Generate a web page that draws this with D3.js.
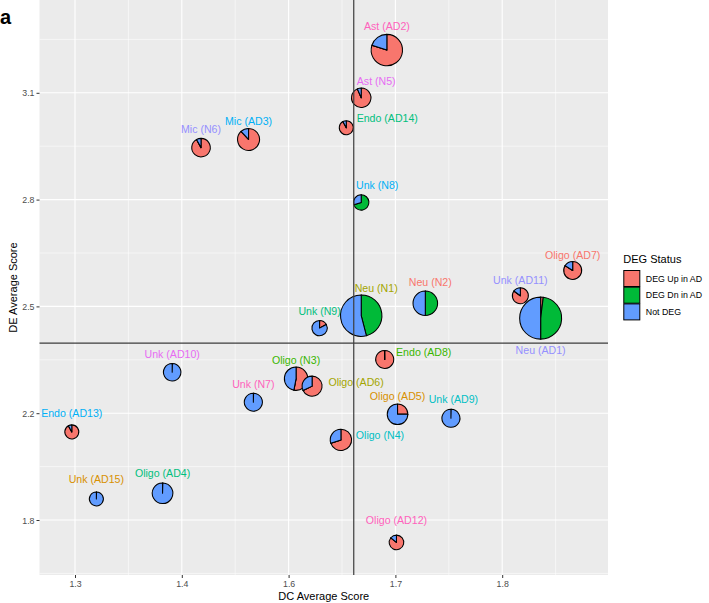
<!DOCTYPE html>
<html><head><meta charset="utf-8">
<script src="https://cdn.jsdelivr.net/npm/d3@7"></script>
<style>
body{margin:0;background:#fff}
svg{display:block}
text{font-family:"Liberation Sans",Arial,Helvetica,sans-serif}
</style>
</head><body>
<svg id="chart" width="709" height="603"></svg>
<script>
// ---------------- data ----------------
const clusters = ["Ast (AD2)","Ast (N5)","Endo (AD14)","Mic (N6)","Mic (AD3)","Unk (N8)",
  "Oligo (AD7)","Unk (AD11)","Neu (N2)","Neu (N1)","Unk (N9)","Neu (AD1)",
  "Endo (AD8)","Oligo (N3)","Oligo (AD6)","Oligo (AD5)","Oligo (N4)","Unk (AD10)",
  "Unk (N7)","Endo (AD13)","Unk (AD15)","Oligo (AD4)","Unk (AD9)","Oligo (AD12)"];
const dcScore = [1.692,1.668,1.654,1.436,1.525,1.668,
  1.866,1.817,1.728,1.668,1.629,1.836,
  1.690,1.607,1.622,1.702,1.649,1.391,
  1.534,1.297,1.320,1.382,1.752,1.701];
const deScore = [3.220,3.086,3.002,2.946,2.969,2.792,
  2.601,2.530,2.509,2.474,2.439,2.467,
  2.351,2.297,2.276,2.196,2.100,2.315,
  2.231,2.130,1.879,1.900,2.181,1.716];
const nCells = [2460,940,490,860,1210,590,
  810,640,1510,4280,590,4410,
  810,1370,1000,1060,1140,760,
  810,490,490,1060,810,530];
const pctUp  = [80,93.5,92,92,88,0, 84,85,0,0,17,2, 99.6,53,68,25,70,0.4, 0.4,92,0.4,0.4,0.4,86];
const pctDn  = [0,0,0,0,0,70, 0,0,50,46,0,48, 0,0,0,0,0,0, 0,0,0,0,0,0];
const pctNot = [20,6.5,8,8,12,30, 16,15,50,54,83,50, 0.4,47,32,75,30,99.6, 99.6,8,99.6,99.6,99.6,14];

const xTicks = [1.3,1.4,1.6,1.7,1.8];
const xTickLabels = ["1.3","1.4","1.6","1.7","1.8"];
const yTicks = [1.8,2.2,2.5,2.8,3.1];
const yTickLabels = ["1.8","2.2","2.5","2.8","3.1"];
const refDC = 1.661;
const refDE = 2.397;

const statusNames = ["DEG Up in AD","DEG Dn in AD","Not DEG"];

// ---------------- styles / layout ----------------
const statusColors = ["#F8766D","#00BA38","#619CFF"];
const hue = {salmon:"#F8766D",orange:"#D89000",olive:"#A3A500",green:"#39B600",teal:"#00BF7D",
  cyan:"#00BFC4",blue:"#00B0F6",lav:"#9590FF",mag:"#E76BF3",pink:"#FF62BC"};
const labelStyle = {
  "Ast (AD2)":["pink",0,-24], "Ast (N5)":["mag",15,-17], "Endo (AD14)":["teal",41,-10],
  "Mic (N6)":["lav",0,-18], "Mic (AD3)":["blue",0,-18], "Unk (N8)":["blue",16,-17],
  "Oligo (AD7)":["salmon",0,-15], "Unk (AD11)":["lav",0,-16], "Neu (N2)":["salmon",5,-21],
  "Neu (N1)":["olive",15,-27], "Unk (N9)":["teal",0,-17], "Neu (AD1)":["lav",0,32],
  "Endo (AD8)":["green",39,-7], "Oligo (N3)":["green",0,-18], "Oligo (AD6)":["olive",44,-4],
  "Oligo (AD5)":["orange",0,-18], "Oligo (N4)":["cyan",39,-5], "Unk (AD10)":["mag",0,-18],
  "Unk (N7)":["pink",0,-18], "Endo (AD13)":["blue",0,-19], "Unk (AD15)":["orange",0,-20],
  "Oligo (AD4)":["teal",0,-20], "Unk (AD9)":["cyan",2.5,-19], "Oligo (AD12)":["pink",0,-22]
};

const W = 709, H = 603;
const P = {l:39.5, r:608, t:0, b:575};
const step = 106.8;
const xFirst = 75, yFirst = 520;

const svg = d3.select("#chart");

const x = d3.scaleLinear().domain(xTicks).range(xTicks.map((d,i)=>xFirst + i*step));
const y = d3.scaleLinear().domain(yTicks).range(yTicks.map((d,i)=>yFirst - i*step));
const r = d3.scaleSqrt().domain([0, d3.max(nCells)]).range([0, 21]);

// panel
svg.append("rect").attr("x",P.l).attr("y",P.t).attr("width",P.r-P.l).attr("height",P.b-P.t).attr("fill","#EBEBEB");

const xPos = xTicks.map(x), yPos = yTicks.map(y);
function minors(pos, lo, hi){
  const out = [];
  const ext = [pos[0]-(pos[1]-pos[0]), ...pos, pos[pos.length-1]+(pos[pos.length-1]-pos[pos.length-2])];
  for(let i=0;i<ext.length-1;i++){const m=(ext[i]+ext[i+1])/2; if(m>lo && m<hi) out.push(m);}
  return out;
}
const g = svg.append("g");
minors(xPos,P.l,P.r).forEach(v=>g.append("line").attr("x1",v).attr("x2",v).attr("y1",P.t).attr("y2",P.b).attr("stroke","#fff").attr("stroke-width",0.55));
minors(yPos,P.t,P.b-0.5).forEach(v=>g.append("line").attr("y1",v).attr("y2",v).attr("x1",P.l).attr("x2",P.r).attr("stroke","#fff").attr("stroke-width",0.55));
xPos.forEach(v=>g.append("line").attr("x1",v).attr("x2",v).attr("y1",P.t).attr("y2",P.b).attr("stroke","#fff").attr("stroke-width",1.1));
yPos.forEach(v=>g.append("line").attr("y1",v).attr("y2",v).attr("x1",P.l).attr("x2",P.r).attr("stroke","#fff").attr("stroke-width",1.1));

// axes
const xAxis = d3.axisBottom(x).tickValues(xTicks).tickFormat((d,i)=>xTickLabels[i]).tickSize(3).tickSizeOuter(0);
const yAxis = d3.axisLeft(y).tickValues(yTicks).tickFormat((d,i)=>yTickLabels[i]).tickSize(3).tickSizeOuter(0);
const gx = svg.append("g").attr("transform",`translate(0,${P.b})`).call(xAxis);
const gy = svg.append("g").attr("transform",`translate(${P.l},0)`).call(yAxis);
[gx,gy].forEach(a=>{
  a.select(".domain").remove();
  a.selectAll(".tick line").attr("stroke","#333").attr("stroke-width",1);
  a.selectAll(".tick text").attr("fill","#4D4D4D").style("font-size","8.8px")
   .style("font-family",'"Liberation Sans",Arial,sans-serif');
});
gx.selectAll(".tick text").attr("dy",null).attr("y",12);
gy.selectAll(".tick text").attr("x",-5).attr("dy","0.34em");

// pies
const pie = d3.pie().sort(null).value(d=>d);
const arc = d3.arc().innerRadius(0);
const pts = clusters.map((c,i)=>({name:c, dc:dcScore[i], de:deScore[i], n:nCells[i], v:[pctUp[i],pctDn[i],pctNot[i]]}));
const gp = svg.append("g");
pts.forEach(p=>{
  const cx = x(p.dc), cy = y(p.de), rr = r(p.n);
  const gg = gp.append("g").attr("transform",`translate(${cx},${cy})`);
  gg.selectAll("path").data(pie(p.v)).join("path")
    .attr("d",d=>arc.outerRadius(rr)(d))
    .attr("fill",(d,i)=>statusColors[i])
    .attr("stroke","#000").attr("stroke-width",1.05).attr("stroke-linejoin","round");
});

// reference lines
svg.append("line").attr("x1",x(refDC)).attr("x2",x(refDC)).attr("y1",P.t).attr("y2",P.b)
  .attr("stroke","#3d3d3d").attr("stroke-width",1.2);
svg.append("line").attr("x1",P.l).attr("x2",P.r).attr("y1",y(refDE)).attr("y2",y(refDE))
  .attr("stroke","#3d3d3d").attr("stroke-width",1.2);

// point labels
const fs = 10.6;
pts.forEach(p=>{
  const st = labelStyle[p.name];
  svg.append("text").attr("x",x(p.dc)+st[1]).attr("y",y(p.de)+st[2]+fs*0.36)
    .attr("text-anchor","middle").attr("fill",hue[st[0]]).style("font-size",fs+"px").text(p.name);
});

// axis titles
svg.append("text").attr("x",(P.l+P.r)/2).attr("y",600).attr("text-anchor","middle")
  .style("font-size","11px").attr("fill","#000").text("DC Average Score");
svg.append("text").attr("transform",`translate(17,${(P.t+P.b)/2}) rotate(-90)`).attr("text-anchor","middle")
  .style("font-size","11px").attr("fill","#000").text("DE Average Score");

// panel tag
svg.append("text").attr("x",0).attr("y",24).style("font-size","20px").style("font-weight","bold").text("a");

// legend
const lg = svg.append("g").attr("transform","translate(623.3,0)");
lg.append("text").attr("x",0).attr("y",263).style("font-size","11px").text("DEG Status");
statusNames.forEach((s,i)=>{
  lg.append("rect").attr("x",0.5).attr("y",270.5+i*16.7).attr("width",16).attr("height",16)
    .attr("fill",statusColors[i]).attr("stroke","#000").attr("stroke-width",1);
  lg.append("text").attr("x",22.5).attr("y",278.5+i*16.7+3.2).style("font-size","8.8px").text(s);
});
</script>
</body></html>
